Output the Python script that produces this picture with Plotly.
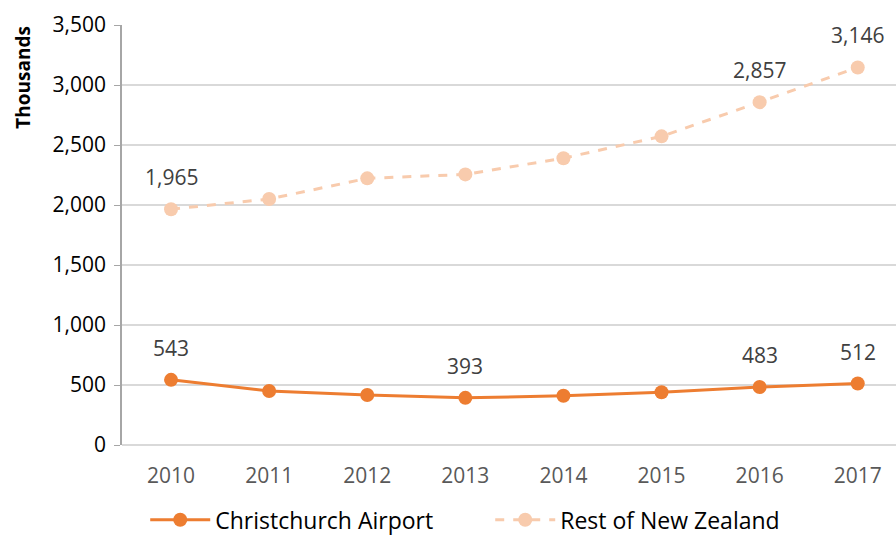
import plotly.graph_objects as go

years = ["2010", "2011", "2012", "2013", "2014", "2015", "2016", "2017"]
christchurch = [543, 450, 417, 393, 410, 440, 483, 512]
rest_nz = [1965, 2050, 2222, 2255, 2390, 2572, 2857, 3146]
chc_labelled = ["2010", "2013", "2016", "2017"]
rest_labelled = ["2010", "2016", "2017"]

ORANGE = "#ED7D31"
PEACH = "#F8CBAD"
FONT = "Open Sans"

fig = go.Figure()
fig.add_trace(go.Scatter(
    x=years, y=christchurch, name="Christchurch Airport", mode="lines+markers",
    line=dict(color=ORANGE, width=3), marker=dict(color=ORANGE, size=14),
))
fig.add_trace(go.Scatter(
    x=years, y=rest_nz, name="Rest of New Zealand", mode="lines+markers",
    line=dict(color=PEACH, width=3, dash="dash"), marker=dict(color=PEACH, size=14),
))

for i, (yr, v) in enumerate(zip(years, christchurch)):
    if yr in chc_labelled:
        fig.add_annotation(x=i, y=v, xref="x", yref="y", text=f"{v:,}", showarrow=False, yshift=32,
                           font=dict(family=FONT, size=21, color="#404040"))
for i, (yr, v) in enumerate(zip(years, rest_nz)):
    if yr in rest_labelled:
        fig.add_annotation(x=i, y=v, xref="x", yref="y", text=f"{v:,}", showarrow=False, yshift=32,
                           font=dict(family=FONT, size=21, color="#404040"))

fig.add_annotation(x=-0.129, y=0.875, xref="paper", yref="paper", text="<b>Thousands</b>",
                   textangle=-90, showarrow=False, xanchor="center", yanchor="middle",
                   font=dict(family=FONT, size=19, color="#000000"))

fig.update_layout(
    width=896, height=570,
    margin=dict(l=122, r=0, t=25, b=125),
    paper_bgcolor="white", plot_bgcolor="white",
    font=dict(family=FONT),
    showlegend=True,
    legend=dict(orientation="h", x=0.030, xanchor="left", y=-0.178, yanchor="middle",
                font=dict(family=FONT, size=23, color="#000000"),
                entrywidth=270, itemwidth=60, tracegroupgap=0),
    xaxis=dict(
        type="category", range=[-0.5, 7.39],
        showgrid=False, showline=False, zeroline=False, ticks="",
        tickfont=dict(family=FONT, size=21, color="#595959"),
        ticklabelstandoff=16,
    ),
    yaxis=dict(
        range=[0, 3500], dtick=500, tickformat=",",
        showgrid=True, gridcolor="#D9D9D9", gridwidth=1.5,
        showline=True, linecolor="#A6A6A6", linewidth=1.5,
        ticks="outside", ticklen=6, tickcolor="#A6A6A6",
        zeroline=True, zerolinecolor="#D9D9D9", zerolinewidth=1.5,
        tickfont=dict(family=FONT, size=21, color="#000000"),
        ticklabelstandoff=4,
    ),
)

fig.write_html("out.html", config={"displayModeBar": False},
               post_script="document.body.style.margin='0';document.body.style.overflow='hidden';")
